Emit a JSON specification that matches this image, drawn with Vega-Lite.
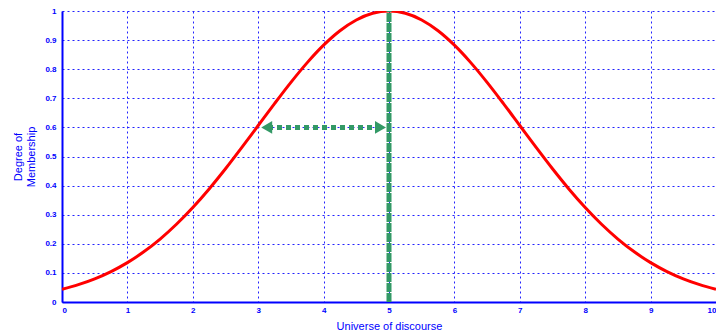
{
  "$schema": "https://vega.github.io/schema/vega-lite/v6.json",
  "width": 654,
  "height": 291,
  "autosize": {"type": "none"},
  "padding": {"left": 62, "top": 11, "right": 0, "bottom": 31},
  "background": "white",
  "config": {"view": {"stroke": null}},
  "datasets": {
    "curve": [
      {"x": 0, "y": 0.0439}, {"x": 0.25, "y": 0.0596}, {"x": 0.5, "y": 0.0796}, {"x": 0.75, "y": 0.1046},
      {"x": 1, "y": 0.1353}, {"x": 1.25, "y": 0.1724}, {"x": 1.5, "y": 0.2163}, {"x": 1.75, "y": 0.2671},
      {"x": 2, "y": 0.3247}, {"x": 2.25, "y": 0.3886}, {"x": 2.5, "y": 0.4578}, {"x": 2.75, "y": 0.5311},
      {"x": 3, "y": 0.6065}, {"x": 3.25, "y": 0.6819}, {"x": 3.5, "y": 0.7548}, {"x": 3.75, "y": 0.8226},
      {"x": 4, "y": 0.8825}, {"x": 4.25, "y": 0.9321}, {"x": 4.5, "y": 0.9692}, {"x": 4.75, "y": 0.9922},
      {"x": 5, "y": 1.0},
      {"x": 5.25, "y": 0.9922}, {"x": 5.5, "y": 0.9692}, {"x": 5.75, "y": 0.9321}, {"x": 6, "y": 0.8825},
      {"x": 6.25, "y": 0.8226}, {"x": 6.5, "y": 0.7548}, {"x": 6.75, "y": 0.6819}, {"x": 7, "y": 0.6065},
      {"x": 7.25, "y": 0.5311}, {"x": 7.5, "y": 0.4578}, {"x": 7.75, "y": 0.3886}, {"x": 8, "y": 0.3247},
      {"x": 8.25, "y": 0.2671}, {"x": 8.5, "y": 0.2163}, {"x": 8.75, "y": 0.1724}, {"x": 9, "y": 0.1353},
      {"x": 9.25, "y": 0.1046}, {"x": 9.5, "y": 0.0796}, {"x": 9.75, "y": 0.0596}, {"x": 10, "y": 0.0439}
    ],
    "vline": [{"x": 5, "y0": 0, "y1": 1}],
    "hline": [{"x0": 3.15, "x1": 4.85, "y": 0.6}],
    "heads": [{"x": 3.13, "y": 0.6, "dir": "left"}, {"x": 4.87, "y": 0.6, "dir": "right"}]
  },
  "layer": [
    {
      "data": {"name": "curve"},
      "mark": {"type": "line", "color": "#ff0000", "strokeWidth": 3, "interpolate": "monotone", "clip": true},
      "encoding": {
        "x": {
          "field": "x", "type": "quantitative",
          "scale": {"domain": [0, 10], "nice": false},
          "axis": {
            "values": [0, 1, 2, 3, 4, 5, 6, 7, 8, 9, 10],
            "tickCount": 11,
            "title": "Universe of discourse",
            "titleColor": "#0000ff", "titleFontSize": 11, "titleFontWeight": "normal", "titlePadding": 6,
            "titleFont": "Liberation Sans",
            "labelColor": "#0000ff", "labelFontSize": 8, "labelFont": "Liberation Sans", "labelFontWeight": "bold",
            "domainColor": "#0000ff", "domainWidth": 2,
            "ticks": false, "labelPadding": 4, "labelOverlap": false,
            "grid": true, "gridColor": "#2222ff", "gridDash": [2, 3], "gridWidth": 1, "gridOpacity": 1
          }
        },
        "y": {
          "field": "y", "type": "quantitative",
          "scale": {"domain": [0, 1], "nice": false},
          "axis": {
            "values": [0, 0.1, 0.2, 0.3, 0.4, 0.5, 0.6, 0.7, 0.8, 0.9, 1],
            "tickCount": 11,
            "format": ".1~f",
            "title": ["Degree of", "Membership"],
            "titleColor": "#0000ff", "titleFontSize": 11, "titleFontWeight": "normal", "titlePadding": 8,
            "titleFont": "Liberation Sans",
            "labelColor": "#0000ff", "labelFontSize": 8, "labelFont": "Liberation Sans", "labelFontWeight": "bold",
            "domainColor": "#0000ff", "domainWidth": 2,
            "ticks": false, "labelPadding": 6, "labelOverlap": false,
            "grid": true, "gridColor": "#2222ff", "gridDash": [2, 3], "gridWidth": 1, "gridOpacity": 1
          }
        }
      }
    },
    {
      "data": {"name": "vline"},
      "mark": {"type": "rule", "color": "#339966", "strokeWidth": 5, "strokeDash": [9, 1]},
      "encoding": {
        "x": {"field": "x", "type": "quantitative"},
        "y": {"field": "y0", "type": "quantitative"},
        "y2": {"field": "y1"}
      }
    },
    {
      "data": {"name": "hline"},
      "mark": {"type": "rule", "color": "#339966", "strokeWidth": 5, "strokeDash": [5, 4]},
      "encoding": {
        "x": {"field": "x0", "type": "quantitative"},
        "x2": {"field": "x1"},
        "y": {"field": "y", "type": "quantitative"}
      }
    },
    {
      "data": {"name": "heads"},
      "mark": {"type": "point", "filled": true, "color": "#339966", "opacity": 1, "size": 160},
      "encoding": {
        "x": {"field": "x", "type": "quantitative"},
        "y": {"field": "y", "type": "quantitative"},
        "shape": {
          "field": "dir", "type": "nominal",
          "scale": {"domain": ["left", "right"], "range": ["triangle-left", "triangle-right"]},
          "legend": null
        }
      }
    }
  ]
}
